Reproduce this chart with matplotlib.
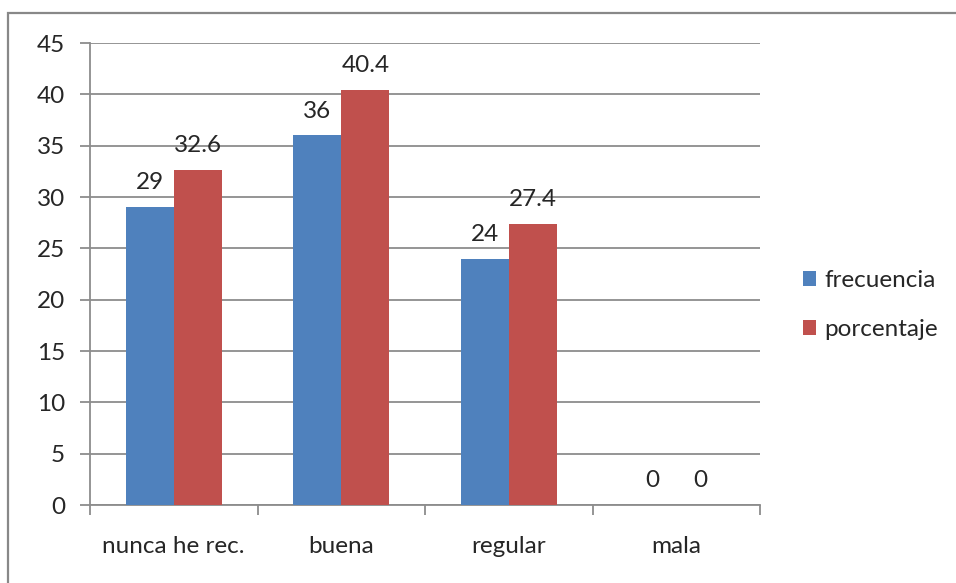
import matplotlib
matplotlib.use("Agg")
import matplotlib.pyplot as plt
import numpy as np
from matplotlib.patches import Rectangle

plt.rcParams['font.family'] = ['Lato', 'DejaVu Sans']

categories = ["nunca he rec.", "buena", "regular", "mala"]
frecuencia = [29, 36, 24, 0]
porcentaje = [32.6, 40.4, 27.4, 0]
series_names = ["frecuencia", "porcentaje"]
y_ticks = [0, 5, 10, 15, 20, 25, 30, 35, 40, 45]

BLUE = "#4F81BD"
RED = "#C0504D"
GRID = "#8C8C8C"
TEXT = "#262626"
FS = 17.5

fig = plt.figure(figsize=(9.56, 5.83), dpi=100)
fig.patch.set_facecolor("white")

# outer chart frame
fig.patches.append(Rectangle((8 / 956, -0.05), 1.2, 1 - 13 / 583 + 0.05,
                             transform=fig.transFigure, fill=False,
                             edgecolor="#888888", linewidth=1.6))

ax = fig.add_axes([90 / 956, 1 - 505 / 583, 670 / 956, 462 / 583])

x = np.arange(len(categories))
w = 0.287
b1 = ax.bar(x - w / 2, frecuencia, w, color=BLUE, label=series_names[0], zorder=3)
b2 = ax.bar(x + w / 2, porcentaje, w, color=RED, label=series_names[1], zorder=3)

for bars, vals in ((b1, frecuencia), (b2, porcentaje)):
    for rect, v in zip(bars, vals):
        ax.annotate(f"{v:g}", (rect.get_x() + rect.get_width() / 2, v),
                    xytext=(0, 10), textcoords="offset points",
                    ha="center", va="bottom", fontsize=FS, color=TEXT)

ax.set_xlim(-0.5, len(categories) - 0.5)
ax.set_ylim(0, 45)
ax.set_yticks(y_ticks)
ax.yaxis.grid(True, color=GRID, linewidth=1.3, zorder=0)
ax.set_axisbelow(True)

ax.set_xticks(x)
ax.set_xticklabels(categories, fontsize=FS, color=TEXT)
ax.set_xticks(np.arange(len(categories) + 1) - 0.5, minor=True)
ax.tick_params(axis="x", which="major", length=0, pad=22)
ax.tick_params(axis="x", which="minor", length=7, width=1.3, color=GRID)
ax.tick_params(axis="y", length=7, width=1.3, color=GRID, pad=11,
               labelsize=FS, labelcolor=TEXT)

for s in ("top", "right"):
    ax.spines[s].set_visible(False)
for s in ("left", "bottom"):
    ax.spines[s].set_color(GRID)
    ax.spines[s].set_linewidth(1.3)

fig.legend(handles=[b1, b2], labels=series_names, loc="upper left",
           bbox_to_anchor=(781 / 956, 1 - 248 / 583), frameon=False,
           fontsize=FS, handlelength=0.55, handleheight=0.55,
           handletextpad=0.35, labelspacing=1.15, labelcolor=TEXT)

fig.savefig("out.png", dpi=100, facecolor="white")
